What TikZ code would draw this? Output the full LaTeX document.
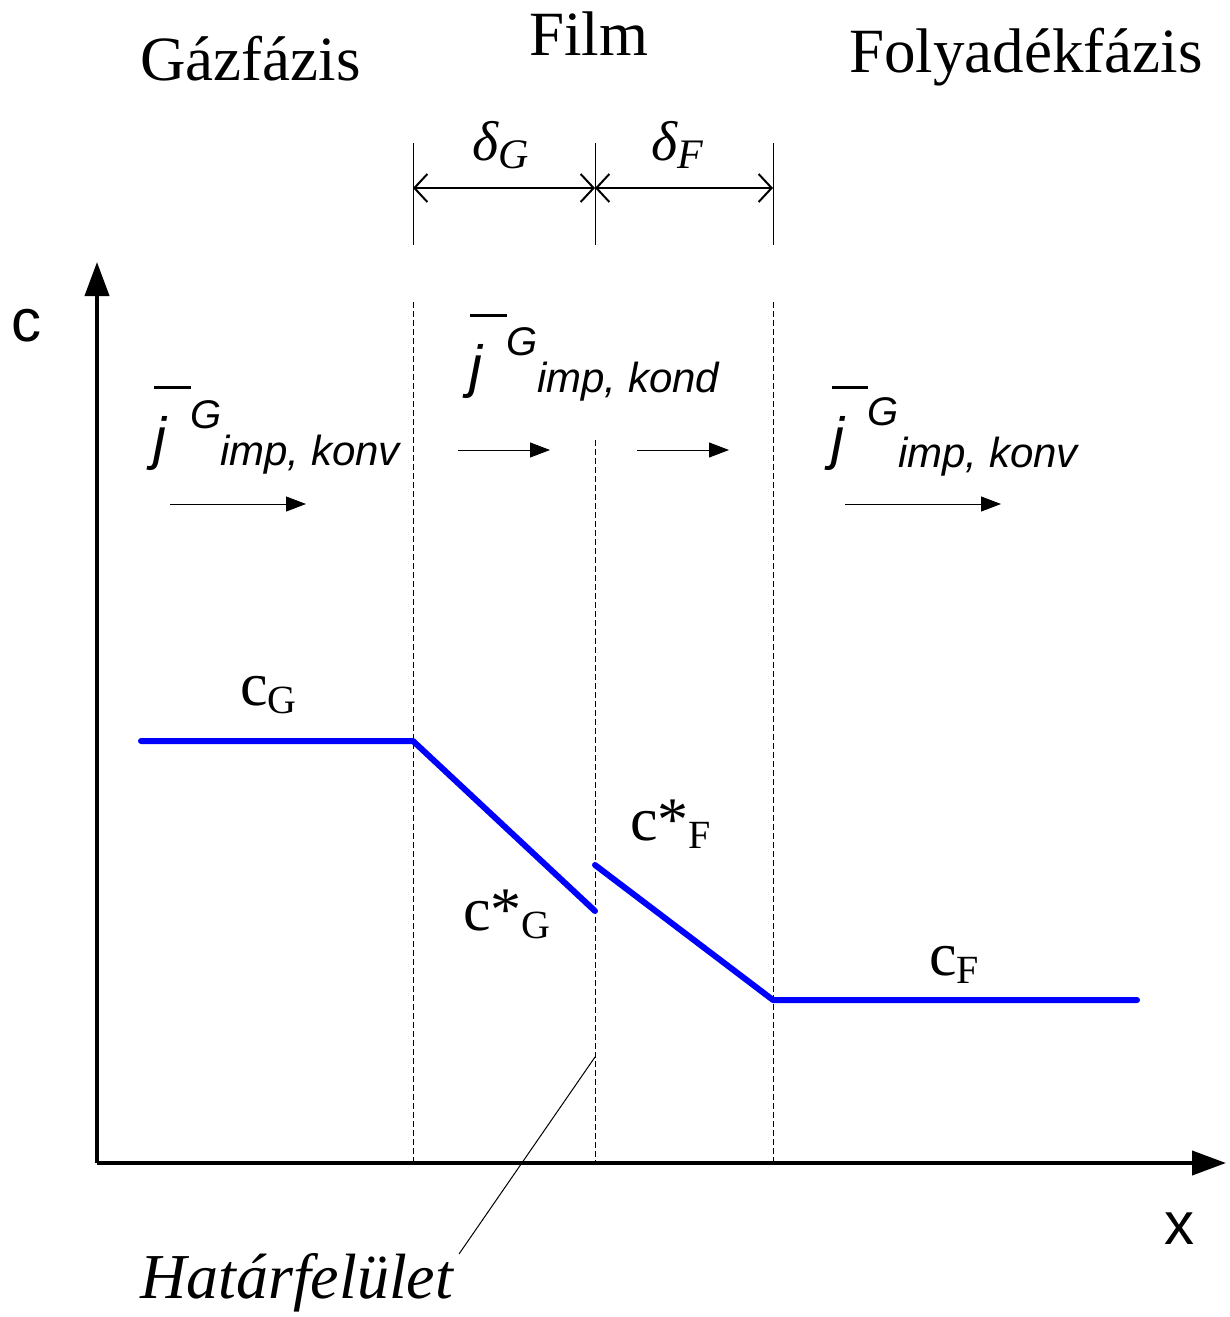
\documentclass[tikz,border=0pt]{standalone}
\usepackage{fontspec}
\setmainfont{Liberation Serif}
\newfontfamily\arialfont{Liberation Sans}
\usetikzlibrary{arrows.meta}
\begin{document}
\begin{tikzpicture}[x=1pt,y=-1pt,
  txt/.style={inner sep=0pt,anchor=base west},
  title/.style={txt,font=\fontsize{63}{63}\selectfont},
  clab/.style={txt,font=\fontsize{62}{62}\selectfont},
  fj/.style={txt,font=\arialfont\itshape\fontsize{58}{58}\selectfont},
  fsup/.style={txt,font=\arialfont\itshape\fontsize{40}{40}\selectfont},
  fsub/.style={txt,font=\arialfont\itshape\fontsize{42}{42}\selectfont},
  axlab/.style={txt,font=\arialfont\fontsize{60}{60}\selectfont},
  dim/.style={line width=1pt},
  dimarr/.style={line width=2pt,{Straight Barb[length=13pt,width=28pt,line width=2pt]}-{Straight Barb[length=13pt,width=28pt,line width=2pt]}},
  guide/.style={line width=1pt,dash pattern=on 6pt off 3pt},
  flux/.style={line width=1pt,-{Triangle[length=20pt,width=15pt]}},
  axis/.style={line width=4pt,-{Triangle[length=34pt,width=24pt]}},
  curve/.style={line width=6pt,color=blue,line cap=round,line join=round}]
\useasboundingbox (0,0) rectangle (1229,1317);

% titles
\node[title] (gaz) at (140,80) {Gázfázis};
\node[title] (film) at (529,55) {Film};
\node[title] (foly) at (849,72) {Folyadékfázis};

% dimension lines
\coordinate (d1t) at (413,143); \coordinate (d1b) at (413,245);
\coordinate (d2t) at (595,143); \coordinate (d2b) at (595,245);
\coordinate (d3t) at (773,143); \coordinate (d3b) at (773,245);
\draw[dim] (d1t) -- (d1b);
\draw[dim] (d2t) -- (d2b);
\draw[dim] (d3t) -- (d3b);
\coordinate (a1) at (413,188); \coordinate (a2) at (595,188); \coordinate (a3) at (773,188);
\draw[dimarr] (a1) -- (a2);
\draw[dimarr] (a2) -- (a3);
\node[txt,font=\itshape\fontsize{56}{56}\selectfont] (dG) at (472,160) {δ\raisebox{-8pt}{\fontsize{42}{42}\selectfont G}};
\node[txt,font=\itshape\fontsize{56}{56}\selectfont] (dF) at (651,160) {δ\raisebox{-8pt}{\fontsize{42}{42}\selectfont F}};

% axes
\coordinate (O) at (97,1163);
\coordinate (ytip) at (97,262);
\coordinate (xtip) at (1226,1163);
\draw[axis] (O) -- (ytip);
\draw[axis] (O) -- (xtip);
\node[axlab] (cax) at (11,341) {c};
\node[axlab] (xax) at (1164,1244) {x};

% dashed guides
\coordinate (g1t) at (413,302); \coordinate (g1b) at (413,1163);
\coordinate (g2t) at (595,440); \coordinate (g2b) at (595,1163);
\coordinate (g3t) at (773,302); \coordinate (g3b) at (773,1163);
\draw[guide] (g1t) -- (g1b);
\draw[guide] (g2t) -- (g2b);
\draw[guide] (g3t) -- (g3b);

% flux labels
\node[fj] (j1) at (153,458) {j};
\draw[line width=3pt] (154,387) -- (191,387);
\node[fsup] (G1) at (190,428) {G};
\node[fsub] (s1) at (220,465) {imp, konv};

\node[fj] (j2) at (469,386) {j};
\draw[line width=3pt] (470,315) -- (507,315);
\node[fsup] (G2) at (506,355) {G};
\node[fsub] (s2) at (537,392) {imp, kond};

\node[fj] (j3) at (831,458) {j};
\draw[line width=3pt] (832,387) -- (868,387);
\node[fsup] (G3) at (867,425) {G};
\node[fsub] (s3) at (898,467) {imp, konv};

% flux arrows
\coordinate (f1a) at (170,504); \coordinate (f1b) at (306,504);
\coordinate (f2a) at (458,450); \coordinate (f2b) at (550,450);
\coordinate (f3a) at (637,450); \coordinate (f3b) at (729,450);
\coordinate (f4a) at (845,504); \coordinate (f4b) at (1001,504);
\draw[flux] (f1a) -- (f1b);
\draw[flux] (f2a) -- (f2b);
\draw[flux] (f3a) -- (f3b);
\draw[flux] (f4a) -- (f4b);

% concentration profile
\coordinate (p1) at (141,741); \coordinate (p2) at (413,741); \coordinate (p3) at (595,911);
\coordinate (q1) at (595,865); \coordinate (q2) at (773,1000); \coordinate (q3) at (1137,1000);
\draw[curve] (p1) -- (p2) -- (p3);
\draw[curve] (q1) -- (q2) -- (q3);

% concentration labels
\node[clab] (cG) at (240,705) {c\raisebox{-8pt}{\fontsize{40}{40}\selectfont G}};
\node[clab] (csF) at (630,840) {c*\raisebox{-8pt}{\fontsize{40}{40}\selectfont F}};
\node[clab] (csG) at (463,930) {c*\raisebox{-8pt}{\fontsize{40}{40}\selectfont G}};
\node[clab] (cF) at (929,975) {c\raisebox{-8pt}{\fontsize{40}{40}\selectfont F}};

% interface label
\node[txt,font=\itshape\fontsize{64}{64}\selectfont] (hat) at (140,1298) {Határfelület};
\coordinate (lead) at (595,1057);
\coordinate (leadend) at (459,1254);
\draw[line width=1pt] (lead) -- (leadend);
\end{tikzpicture}
\end{document}
